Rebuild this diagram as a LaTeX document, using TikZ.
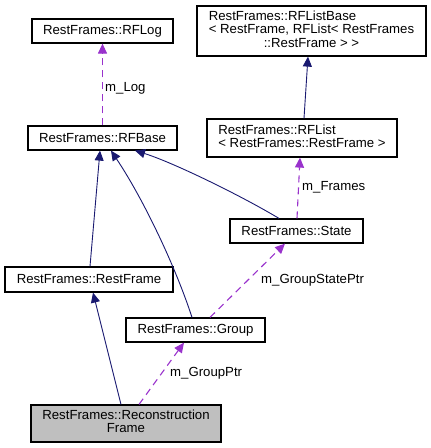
\documentclass[tikz,border=0pt]{standalone}
\usepackage{fontspec}
\setmainfont{Liberation Sans}
\usepackage{tikz}
\usetikzlibrary{arrows.meta,positioning}
\definecolor{inhblue}{RGB}{25,25,112}
\definecolor{usepurple}{RGB}{153,50,204}
\definecolor{mainfill}{RGB}{191,191,191}

\begin{document}
\begin{tikzpicture}[
  x=1pt,y=-1pt,
  font=\fontsize{13.2}{14.2}\selectfont,
  cls/.style={draw, line width=1.2pt, inner sep=0pt, fill=white},
  inh/.style={-{Triangle[length=10pt,width=9pt]}, draw=inhblue, line width=0.9pt},
  uses/.style={-{Triangle[length=10pt,width=9pt]}, draw=usepurple, line width=1.1pt, dash pattern=on 7pt off 5pt},
  lbl/.style={anchor=west, inner sep=0pt}
]
\useasboundingbox (0,0) rectangle (431,448);

% classes
\node[cls, minimum width=141, minimum height=24] (log) at (102.5,31) {RestFrames::RFLog};
\node[cls, minimum width=229, minimum height=50] (listbase) at (311.5,31)
  {\begin{tabular}{@{}l@{}}RestFrames::RFListBase\\[-1pt]
   < RestFrame, RFList< RestFrames\\[-1pt]
   \multicolumn{1}{@{}c@{}}{::RestFrame > >}\end{tabular}};
\node[cls, minimum width=149, minimum height=24] (base) at (102.5,138) {RestFrames::RFBase};
\node[cls, minimum width=190, minimum height=38] (list) at (302,138)
  {\begin{tabular}{@{}l@{}}RestFrames::RFList\\[-1pt]
   < RestFrames::RestFrame >\end{tabular}};
\node[cls, minimum width=133, minimum height=24] (state) at (296.5,231) {RestFrames::State};
\node[cls, minimum width=168, minimum height=25] (restframe) at (89,279.5) {RestFrames::RestFrame};
\node[cls, minimum width=139, minimum height=24] (group) at (195.5,330) {RestFrames::Group};
\node[cls, fill=mainfill, minimum width=190, minimum height=37] (recon) at (126,423.5)
  {\begin{tabular}{@{}c@{}}RestFrames::Reconstruction\\[-1pt] Frame\end{tabular}};

% inheritance
\draw[inh] ([xshift=1pt]restframe.north) -- ([xshift=-2.5pt]base.south);
\draw[inh] ([xshift=-3.5pt]group.north) .. controls (176,268) and (144,200) .. ([xshift=8.5pt]base.south);
\draw[inh] ([xshift=-17.5pt]state.north) .. controls (240,195) and (172,162) .. ([xshift=32.5pt]base.south);
\draw[inh] ([xshift=2pt]list.north) -- ([xshift=-3.5pt]listbase.south);
\draw[inh] ([xshift=-5pt]recon.north) -- ([xshift=4pt]restframe.south);

% members
\draw[uses] (base.north) -- (log.south);
\draw[uses] ([xshift=0.5pt]state.north) -- ([xshift=-2pt]list.south);
\draw[uses] ([xshift=14.5pt]group.north) -- ([xshift=-11.5pt]state.south);
\draw[uses] ([xshift=13pt]recon.north) -- ([xshift=-11.5pt]group.south);

\node[lbl] (lLog) at (105,88) {m\_Log};
\node[lbl] (lFrames) at (302,187) {m\_Frames};
\node[lbl] (lState) at (261,280) {m\_GroupStatePtr};
\node[lbl] (lGroup) at (170,373) {m\_GroupPtr};

\end{tikzpicture}
\end{document}
